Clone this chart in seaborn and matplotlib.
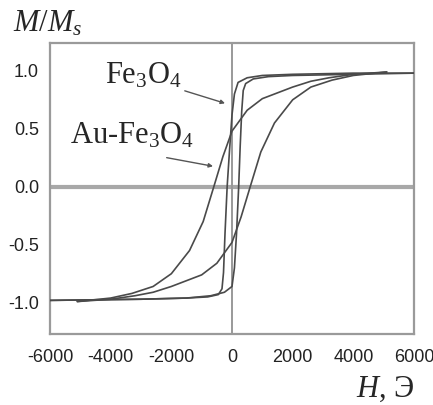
import matplotlib
matplotlib.use('Agg')
import matplotlib.pyplot as plt
import seaborn as sns

# Fe3O4 loop (narrow)
fe_down_H = [6000, 4000, 2000, 1000, 500, 200, 80, 0, -80, -160, -230, -280, -330, -450, -800, -1500, -3000, -6000]
fe_down_M = [0.98, 0.98, 0.97, 0.96, 0.94, 0.90, 0.80, 0.62, 0.32, 0.0, -0.40, -0.74, -0.88, -0.93, -0.95, -0.96, -0.97, -0.98]
fe_up_H = [-6000, -3000, -1500, -700, -250, 0, 80, 150, 220, 270, 320, 370, 450, 700, 1200, 2000, 4000, 6000]
fe_up_M = [-0.98, -0.97, -0.96, -0.94, -0.91, -0.86, -0.70, -0.40, 0.0, 0.35, 0.65, 0.83, 0.89, 0.93, 0.95, 0.96, 0.97, 0.98]

# Au-Fe3O4 loop (wide)
au_down_H = [5100, 4000, 3200, 2600, 2000, 1400, 1000, 500, 0, -300, -600, -950, -1400, -2000, -2600, -3300, -4000, -5100]
au_down_M = [0.99, 0.97, 0.94, 0.91, 0.86, 0.80, 0.76, 0.66, 0.48, 0.26, 0.0, -0.30, -0.55, -0.75, -0.86, -0.92, -0.96, -0.99]
au_up_H = [-5100, -4000, -3200, -2600, -2000, -1400, -1000, -500, 0, 300, 600, 950, 1400, 2000, 2600, 3300, 4000, 5100]
au_up_M = [-0.99, -0.97, -0.94, -0.91, -0.86, -0.80, -0.76, -0.66, -0.48, -0.26, 0.0, 0.30, 0.55, 0.75, 0.86, 0.92, 0.96, 0.99]

x_ticks = [-6000, -4000, -2000, 0, 2000, 4000, 6000]
y_ticks = [-1.0, -0.5, 0.0, 0.5, 1.0]

sns.set_style('white')
plt.rcParams['font.family'] = ['Liberation Sans', 'DejaVu Sans']
plt.rcParams['mathtext.fontset'] = 'custom'
plt.rcParams['mathtext.rm'] = 'Liberation Serif'
plt.rcParams['mathtext.it'] = 'Liberation Serif:italic'

fig = plt.figure(figsize=(4.33, 4.05), dpi=100)
ax = fig.add_axes([50 / 433, 1 - 334 / 405, 364 / 433, 291 / 405])

# reference lines
ax.axhline(0, color='#a8a8a8', lw=3.0, zorder=1)
ax.axvline(0, color='#999999', lw=1.4, zorder=1)

line_col = '#4a4a4a'
for hx, my in [(fe_down_H, fe_down_M), (fe_up_H, fe_up_M),
               (au_down_H, au_down_M), (au_up_H, au_up_M)]:
    sns.lineplot(x=hx, y=my, ax=ax, color=line_col, lw=1.2, sort=False,
                 estimator=None, zorder=3)

ax.set_xlim(-6000, 6000)
ax.set_ylim(-1.27, 1.24)
ax.set_xticks(x_ticks)
ax.set_xticklabels(['-6000', '-4000', '-2000', '0', '2000', '4000', '6000'])
ax.set_yticks(y_ticks)
ax.set_yticklabels(['-1.0', '-0.5', '0.0', '0.5', '1.0'])
ax.set_xticks(range(-5000, 6000, 2000), minor=True)
ax.set_yticks([-1.25, -0.75, -0.25, 0.25, 0.75], minor=True)
ax.tick_params(which='both', direction='out', length=3, width=1.5, color='#999999',
               labelsize=13, labelcolor='#222222', pad=5)
ax.tick_params(axis='x', pad=8)
for s in ax.spines.values():
    s.set_color('#9a9a9a')
    s.set_linewidth(1.6)

# sample labels with arrows
ax.annotate('Fe$_3$O$_4$', xy=(-230, 0.72), xytext=(-2930, 0.89),
            fontsize=22, family='Liberation Serif', ha='center', va='baseline',
            arrowprops=dict(arrowstyle='-|>', color='#555555', lw=1.0,
                            mutation_scale=6, shrinkA=0, shrinkB=0,
                            relpos=(0.97, 0.05)))
ax.annotate('Au-Fe$_3$O$_4$', xy=(-626, 0.177), xytext=(-3300, 0.375),
            fontsize=22, family='Liberation Serif', ha='center', va='baseline',
            arrowprops=dict(arrowstyle='-|>', color='#555555', lw=1.0,
                            mutation_scale=6, shrinkA=0, shrinkB=0,
                            relpos=(0.78, -0.25)))

fig.text(13 / 433, 1 - 32 / 405, '$M/M_s$', fontsize=22, family='Liberation Serif',
         ha='left', va='baseline')
fig.text(356 / 433, 1 - 397 / 405, '$H$, Э', fontsize=22, family='Liberation Serif',
         ha='left', va='baseline')

fig.savefig('out.png', dpi=100)
